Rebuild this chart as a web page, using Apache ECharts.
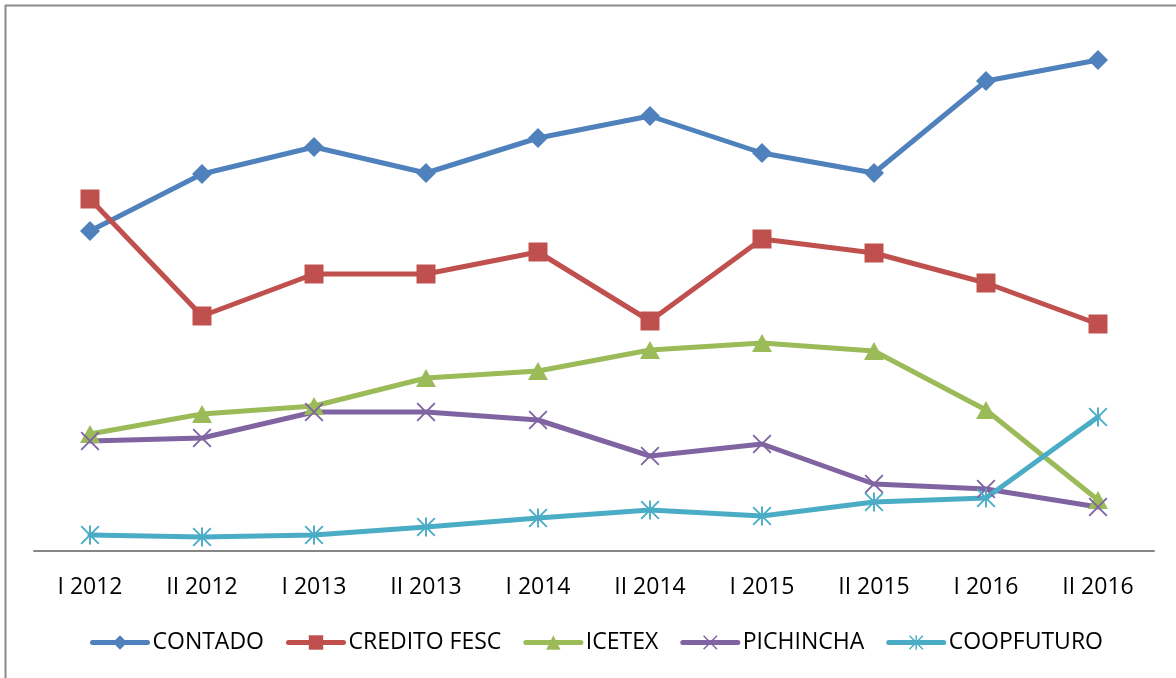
<!DOCTYPE html>
<html>
<head>
<meta charset="utf-8">
<script src="https://cdn.jsdelivr.net/npm/echarts@6/dist/echarts.min.js"></script>
<style>
html,body{margin:0;padding:0;background:#fff;}
#main{width:1176px;height:678px;}
</style>
</head>
<body>
<div id="main"></div>
<script>
var periodos=["I 2012","II 2012","I 2013","II 2013","I 2014","II 2014","I 2015","II 2015","I 2016","II 2016"];
var contado=[320,377,404,378,413,435,398,378,470,491];
var creditoFesc=[352,235,277,277,299,230,312,298,268,227];
var icetex=[117,137,145,173,180,201,208,200,141,51];
var pichincha=[110,113,139,139,131,95,107,67,62,44];
var coopfuturo=[16,14,16,24,33,41,35,49,53,134];

//marker shapes
var xMark="path://M0,1.4L1.4,0L20,18.6L18.6,20Z M18.6,0L20,1.4L1.4,20L0,18.6Z";
var starMark="path://M0,1.4L1.4,0L20,18.6L18.6,20Z M18.6,0L20,1.4L1.4,20L0,18.6Z M9,0L11,0L11,20L9,20Z";

function serie(name,data,color,symbol,size){
    return {
        name:name,type:"line",data:data,
        symbol:symbol,symbolSize:size,
        lineStyle:{width:5,color:color,cap:"round"},
        itemStyle:{color:color},
        emphasis:{disabled:true}
    };
}

var chart=echarts.init(document.getElementById("main"));
chart.setOption({
    animation:false,
    textStyle:{fontFamily:"Open Sans"},
    graphic:[
        {type:"line",shape:{x1:5.5,y1:5,x2:5.5,y2:678},style:{stroke:"#8a8a8a",lineWidth:2}},
        {type:"line",shape:{x1:5,y1:5.5,x2:1176,y2:5.5},style:{stroke:"#8a8a8a",lineWidth:2}}
    ],
    grid:{left:34,right:22,top:20,bottom:127},
    legend:{
        bottom:19,left:85,
        itemWidth:55,itemHeight:18,itemGap:22,
        lineStyle:{width:5,cap:"round"},
        textStyle:{fontSize:23,color:"#000",fontFamily:"Open Sans"},
        data:["CONTADO","CREDITO FESC","ICETEX","PICHINCHA","COOPFUTURO"]
    },
    xAxis:{
        type:"category",data:periodos,boundaryGap:true,
        axisLine:{lineStyle:{color:"#868686",width:2}},
        axisTick:{show:false},
        axisLabel:{fontSize:23,color:"#000",margin:25}
    },
    yAxis:{type:"value",min:0,max:531,show:false,splitLine:{show:false}},
    series:[
        serie("CONTADO",contado,"#4F81BD","diamond",[20,20]),
        serie("CREDITO FESC",creditoFesc,"#C0504D","rect",[19,19]),
        serie("ICETEX",icetex,"#9BBB59","triangle",[20,18]),
        serie("PICHINCHA",pichincha,"#8064A2",xMark,[19,19]),
        serie("COOPFUTURO",coopfuturo,"#4BACC6",starMark,[19,19])
    ]
});
</script>
</body>
</html>
